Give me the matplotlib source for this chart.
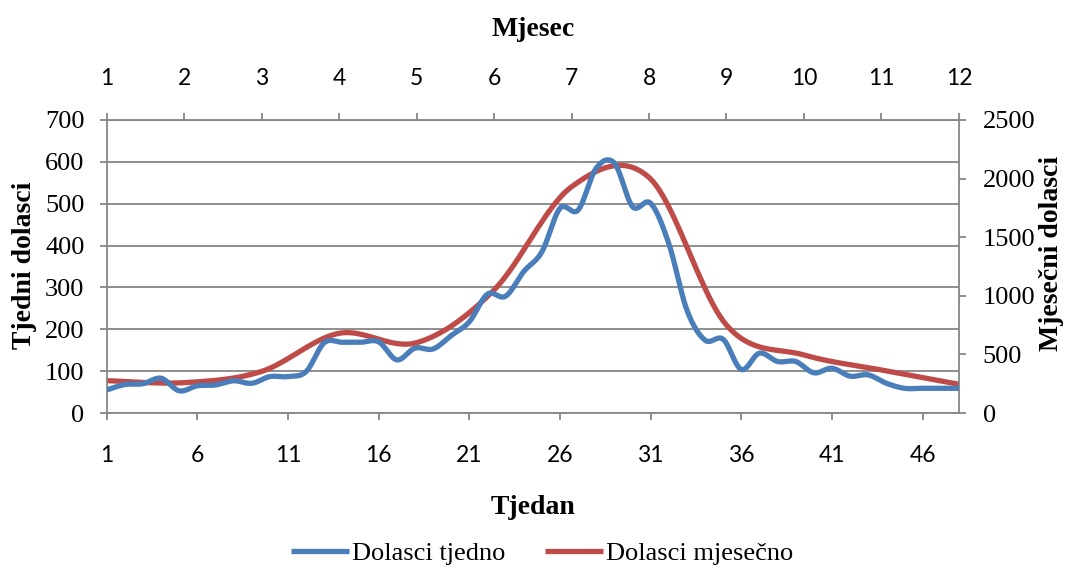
import numpy as np
import matplotlib
matplotlib.use('Agg')
import matplotlib.pyplot as plt

# weekly arrivals (left axis) and monthly arrivals (right axis)
weeks = np.arange(1, 49)
weekly = [55, 68, 70, 83, 53, 65, 67, 77, 71, 87, 87, 99,
          168, 169, 169, 170, 127, 155, 153, 185, 218, 284, 279, 338,
          385, 489, 485, 585, 597, 493, 501, 405, 246, 174, 176, 104,
          143, 123, 123, 96, 107, 88, 91, 71, 59, 59, 59, 59]
months = np.arange(1, 13)
monthly = [276, 259, 355, 680, 600, 1050, 1930, 2010, 750, 495, 367, 245]

week_ticks = list(range(1, 47, 5))

BLUE = '#4a7ebb'
RED = '#be4b48'
GREY = '#868686'


def smooth(x, y, n=24):
    """Catmull-Rom curve through the points (like Excel's smoothed line)."""
    x = np.asarray(x, float)
    y = np.asarray(y, float)
    px = np.concatenate([[x[0]], x, [x[-1]]])
    py = np.concatenate([[y[0]], y, [y[-1]]])
    t = np.linspace(0, 1, n, endpoint=False)
    h00 = 2 * t**3 - 3 * t**2 + 1
    h10 = t**3 - 2 * t**2 + t
    h01 = -2 * t**3 + 3 * t**2
    h11 = t**3 - t**2
    xs, ys = [], []
    for i in range(1, len(px) - 2):
        mx0 = (px[i + 1] - px[i - 1]) / 2
        mx1 = (px[i + 2] - px[i]) / 2
        my0 = (py[i + 1] - py[i - 1]) / 2
        my1 = (py[i + 2] - py[i]) / 2
        xs.append(h00 * px[i] + h10 * mx0 + h01 * px[i + 1] + h11 * mx1)
        ys.append(h00 * py[i] + h10 * my0 + h01 * py[i + 1] + h11 * my1)
    xs.append([x[-1]])
    ys.append([y[-1]])
    return np.concatenate(xs), np.concatenate(ys)


serif = ['Liberation Serif', 'DejaVu Serif']
sans = ['Lato', 'DejaVu Sans']

fig = plt.figure(figsize=(10.69, 5.69), dpi=100)
pos = [106.7 / 1069, 1 - 413 / 569, (958.9 - 106.7) / 1069, 293 / 569]
ax = fig.add_axes(pos)
ax2 = fig.add_axes(pos, frameon=False)
ax2.patch.set_visible(False)

ax.set_xlim(1, 48)
ax.set_ylim(0, 700)
ax2.set_xlim(1, 12)
ax2.set_ylim(0, 2500)

ax.yaxis.grid(True, color=GREY, lw=1.3)
ax.set_axisbelow(True)
for s in ax.spines.values():
    s.set_color(GREY)
    s.set_linewidth(1.3)

bx, by = smooth(weeks, weekly)
rx, ry = smooth(months, monthly)
ax.plot(rx, ry, color=RED, lw=3.8, solid_capstyle='butt',
        transform=ax2.transData, zorder=2, label='Dolasci mjesečno')
ax.plot(bx, by, color=BLUE, lw=3.8, solid_capstyle='butt', zorder=3,
        label='Dolasci tjedno')

ax.set_xticks(week_ticks)
ax.set_yticks(range(0, 701, 100))
ax.tick_params(axis='x', direction='out', length=5, width=1.3, color=GREY,
               pad=18, labelsize=16.5)
ax.tick_params(axis='y', direction='out', length=5, width=1.3, color=GREY,
               pad=11, labelsize=19)
for lab in ax.get_xticklabels():
    lab.set_family(sans)
for lab in ax.get_yticklabels():
    lab.set_family(serif)

ax2.set_xticks(months)
ax2.set_yticks(range(0, 2501, 500))
ax2.tick_params(axis='x', top=True, bottom=False, labeltop=True,
                labelbottom=False, direction='out', length=5, width=1.3,
                color=GREY, pad=17, labelsize=16.5)
ax2.tick_params(axis='y', right=True, left=False, labelright=True,
                labelleft=False, direction='out', length=5, width=1.3,
                color=GREY, pad=12, labelsize=19)
for lab in ax2.get_xticklabels():
    lab.set_family(sans)
for lab in ax2.get_yticklabels():
    lab.set_family(serif)

fig.text(533 / 1069, 1 - 30 / 569, 'Mjesec', ha='center', va='center',
         family=serif, fontsize=20, fontweight='bold')
fig.text(533 / 1069, 1 - 508 / 569, 'Tjedan', ha='center', va='center',
         family=serif, fontsize=20, fontweight='bold')
fig.text(25 / 1069, 1 - 265 / 569, 'Tjedni dolasci', ha='center', va='center',
         rotation=90, family=serif, fontsize=20, fontweight='bold')
fig.text(1051 / 1069, 1 - 253 / 569, 'Mjesečni dolasci', ha='center',
         va='center', rotation=90, family=serif, fontsize=20, fontweight='bold')

h, l = ax.get_legend_handles_labels()
fig.legend(h[::-1], l[::-1], loc='center',
           bbox_to_anchor=(542 / 1069, 1 - 553 / 569),
           ncol=2, frameon=False, handlelength=2.2, handletextpad=0.1,
           columnspacing=1.5, prop={'family': serif, 'size': 19})

fig.savefig('out.png', dpi=100)
